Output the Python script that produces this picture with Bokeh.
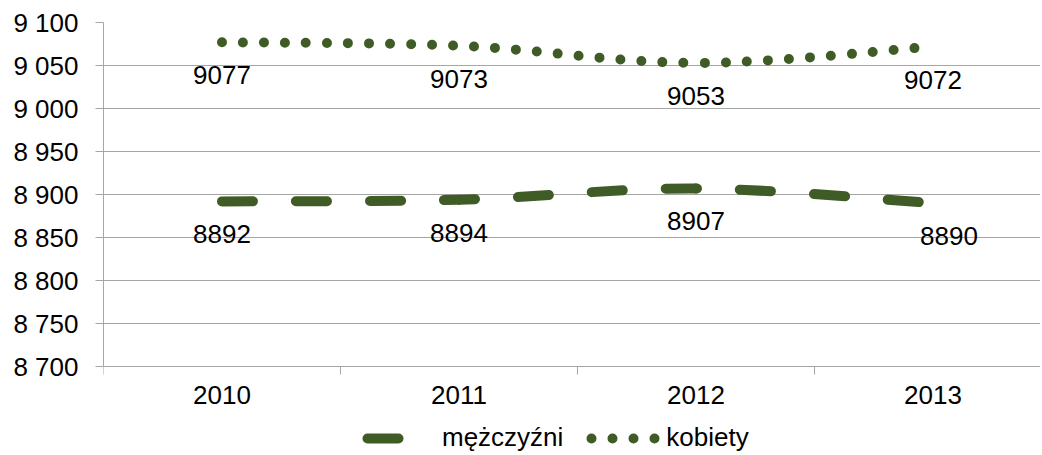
from bokeh.plotting import figure
from bokeh.models import Range1d, FixedTicker, ColumnDataSource, Legend, LegendItem
from bokeh.embed import file_html
from bokeh.resources import INLINE
from bokeh.core.properties import value

# ---- data ----
years = [2010, 2011, 2012, 2013]
men = [8892, 8894, 8907, 8890]
women = [9077, 9073, 9053, 9072]
series_names = ["mężczyźni", "kobiety"]
y_ticks = [8700, 8750, 8800, 8850, 8900, 8950, 9000, 9050, 9100]
y_tick_labels = ["8 700", "8 750", "8 800", "8 850", "8 900", "8 950", "9 000", "9 050", "9 100"]
x_tick_labels = ["2010", "2011", "2012", "2013"]

# ---- style ----
GREEN = "#3F5C26"
GRID = "#A6A6A6"
FONT = "Liberation Sans"
FS = "26px"
MEN_DASH = "31 43"
WOMEN_DASH = "0 21"
SEG_PX = 237.0  # approx. screen length of one category
W, H = 1040, 453
LEFT, TOP, AXIS_Y = 103, 22, 366   # frame left/top, pixel row of the 8 700 line

Y_MIN, Y_MAX = y_ticks[0], y_ticks[-1]
px_per_unit = (AXIS_Y - TOP) / float(Y_MAX - Y_MIN)
y_start = Y_MIN - (H - AXIS_Y) / px_per_unit
x_end = years[0] - 0.5 + (W - LEFT) / SEG_PX
NAN = float("nan")


def smooth_segments(xs, ys, period):
    n = len(xs)
    d = dict(x0=[], y0=[], x1=[], y1=[], cx0=[], cy0=[], cx1=[], cy1=[], off=[])
    for i in range(n - 1):
        im, ip = max(i - 1, 0), min(i + 2, n - 1)
        d["x0"].append(xs[i]); d["y0"].append(ys[i])
        d["x1"].append(xs[i + 1]); d["y1"].append(ys[i + 1])
        d["cx0"].append(xs[i] + (xs[i + 1] - xs[im]) / 6.0)
        d["cy0"].append(ys[i] + (ys[i + 1] - ys[im]) / 6.0)
        d["cx1"].append(xs[i + 1] - (xs[ip] - xs[i]) / 6.0)
        d["cy1"].append(ys[i + 1] - (ys[ip] - ys[i]) / 6.0)
        d["off"].append(int(round(i * SEG_PX)) % period)
    return ColumnDataSource(d)


p = figure(width=W, height=H, output_backend="svg", toolbar_location=None,
           x_range=Range1d(years[0] - 0.5, x_end), y_range=Range1d(y_start, Y_MAX),
           min_border_left=LEFT, min_border_right=0, min_border_top=TOP, min_border_bottom=0)
p.outline_line_color = None
p.background_fill_color = "white"
p.border_fill_color = "white"
p.xgrid.visible = False
p.ygrid.ticker = FixedTicker(ticks=y_ticks)
p.ygrid.grid_line_color = GRID
p.ygrid.grid_line_width = 1

xa = p.xaxis[0]
xa.fixed_location = Y_MIN
xa.ticker = FixedTicker(ticks=years, minor_ticks=[y - 0.5 for y in years] + [years[-1] + 0.5])
xa.major_label_overrides = {y: s for y, s in zip(years, x_tick_labels)}
xa.major_tick_line_color = None
xa.major_tick_out = 0
xa.major_tick_in = 0
xa.minor_tick_line_color = GRID
xa.minor_tick_out = 8
xa.minor_tick_in = 0
xa.axis_line_color = GRID
xa.major_label_standoff = 11
xa.major_label_text_font = FONT
xa.major_label_text_font_size = FS
xa.major_label_text_color = "black"

ya = p.yaxis[0]
ya.bounds = (Y_MIN, Y_MAX)
ya.ticker = FixedTicker(ticks=y_ticks)
ya.major_label_overrides = {t: s for t, s in zip(y_ticks, y_tick_labels)}
ya.major_tick_line_color = GRID
ya.major_tick_out = 8
ya.major_tick_in = 0
ya.minor_tick_line_color = None
ya.axis_line_color = GRID
ya.major_label_standoff = 17
ya.major_label_text_font = FONT
ya.major_label_text_font_size = FS
ya.major_label_text_color = "black"

src_m = smooth_segments(years, men, 74)
src_w = smooth_segments(years, women, 21)

p.bezier(x0="x0", y0="y0", x1="x1", y1="y1", cx0="cx0", cy0="cy0", cx1="cx1", cy1="cy1",
         source=src_m, line_color=GREEN, line_width=10, line_dash=MEN_DASH,
         line_dash_offset="off", line_cap="round")
p.bezier(x0="x0", y0="y0", x1="x1", y1="y1", cx0="cx0", cy0="cy0", cx1="cx1", cy1="cy1",
         source=src_w, line_color=GREEN, line_width=10, line_dash=WOMEN_DASH,
         line_dash_offset="off", line_cap="round")

# legend-only renderers (a single NaN point draws nothing in the plot);
# dash phase chosen so each legend sample starts with a full mark
leg_m = p.line(x=[NAN], y=[NAN], line_color=GREEN, line_width=10, line_dash=MEN_DASH,
               line_dash_offset=69, line_cap="round")
leg_w = p.line(x=[NAN], y=[NAN], line_color=GREEN, line_width=10, line_dash=WOMEN_DASH,
               line_dash_offset=16, line_cap="round")

men_dx = [0, 0, 0, 16]
women_dx = [0, 0, 0, 0]
p.text(x=years, y=men, text=[str(v) for v in men], x_offset=men_dx, y_offset=33,
       text_align="center", text_baseline="middle", text_font=value(FONT),
       text_font_size=FS, text_color="black")
p.text(x=years, y=women, text=[str(v) for v in women], x_offset=women_dx, y_offset=33,
       text_align="center", text_baseline="middle", text_font=value(FONT),
       text_font_size=FS, text_color="black")

legend = Legend(items=[LegendItem(label=series_names[0], renderers=[leg_m]),
                       LegendItem(label=series_names[1], renderers=[leg_w])],
                orientation="horizontal", location=(259, 0),
                glyph_width=74, glyph_height=26, label_standoff=6, spacing=23,
                label_text_font=FONT, label_text_font_size=FS, label_text_color="black",
                border_line_color=None, background_fill_alpha=0, margin=0, padding=0)
p.add_layout(legend, "center")

open("out.html", "w").write(file_html(p, INLINE))
